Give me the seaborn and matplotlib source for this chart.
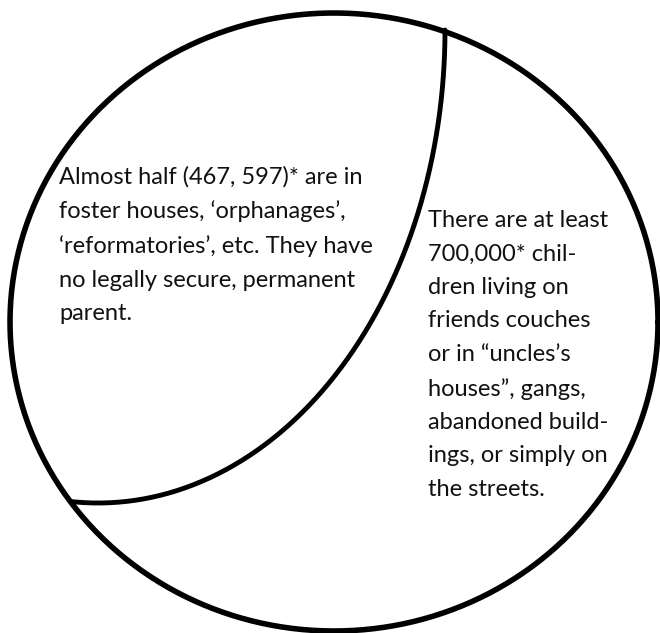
import numpy as np
import pandas as pd
import matplotlib.pyplot as plt
import seaborn as sns

sns.set_theme(style="white")
plt.rcParams["font.family"] = ["Lato", "DejaVu Sans"]

left_lines = [
    "Almost half (467, 597)* are in",
    "foster houses, \u2018orphanages\u2019,",
    "\u2018reformatories\u2019, etc. They have",
    "no legally secure, permanent",
    "parent.",
]
right_lines = [
    "There are at least",
    "700,000* chil-",
    "dren living on",
    "friends couches",
    "or in \u201cuncles\u2019s",
    "houses\u201d, gangs,",
    "abandoned build-",
    "ings, or simply on",
    "the streets.",
]

# outer circle (pixel space)
cx, cy, rx, ry = 334, 322, 324, 309
# inner dividing arc: a little over a quarter ellipse
ax0, ay0, ea, eb = 98, 30, 347, 473
arc_end = np.pi / 2 + 0.075

t = np.linspace(0, 2 * np.pi, 400)
outer = pd.DataFrame({"x": cx + rx * np.cos(t), "y": cy + ry * np.sin(t)})
s = np.linspace(0, arc_end, 200)
arc = pd.DataFrame({"x": ax0 + ea * np.cos(s), "y": ay0 + eb * np.sin(s)})

fig = plt.figure(figsize=(6.6, 6.33), dpi=100)
ax = fig.add_axes([0, 0, 1, 1])

sns.lineplot(data=outer, x="x", y="y", sort=False, estimator=None,
             color="black", linewidth=4.0, ax=ax)
sns.lineplot(data=arc, x="x", y="y", sort=False, estimator=None,
             color="black", linewidth=3.5, ax=ax)
ax.set_xlim(0, 660)
ax.set_ylim(633, 0)
ax.set_axis_off()

ax.text(59, 166, "\n".join(left_lines), fontsize=17, va="top", ha="left",
        linespacing=1.73, color="#111111")
ax.text(428, 210, "\n".join(right_lines), fontsize=17, va="top", ha="left",
        linespacing=1.73, color="#111111")

fig.savefig("out.png", dpi=100, facecolor="white")
